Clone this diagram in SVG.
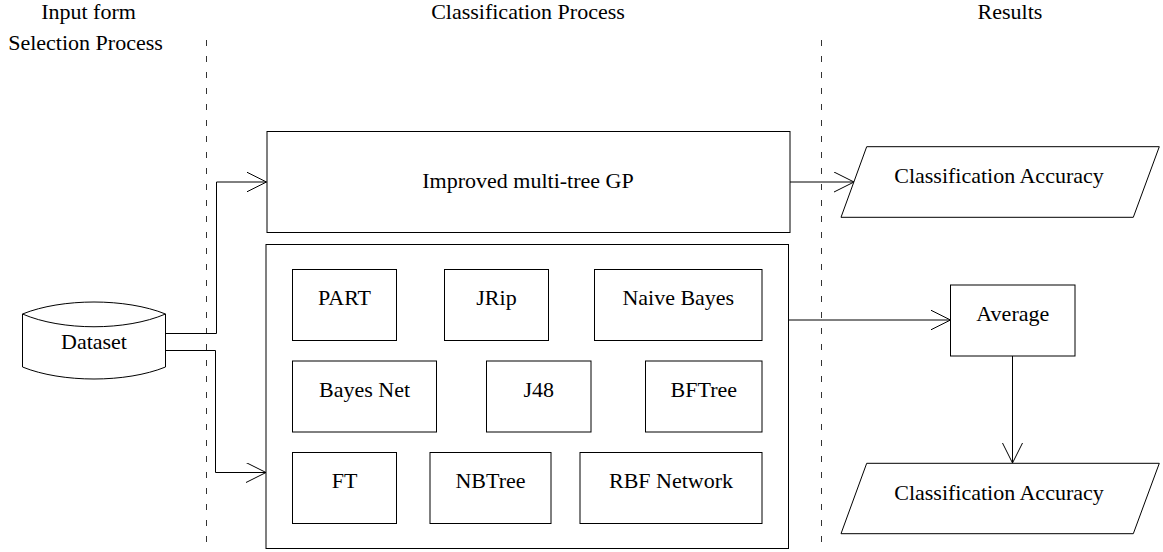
<svg xmlns="http://www.w3.org/2000/svg" width="1163" height="552" viewBox="0 0 1163 552">
  <style>
    text { font-family: "Liberation Serif", "Times New Roman", serif; font-size: 22px; fill: #000; text-anchor: middle; }
    .shape { fill: #fff; stroke: #000; stroke-width: 1; }
    .lane { stroke: #333; stroke-width: 1; stroke-dasharray: 6 10; fill: none; }
    .wire { fill: none; stroke: #000; stroke-width: 1; }
  </style>
  <defs>
    <marker id="open-arrow" markerUnits="userSpaceOnUse" markerWidth="22" markerHeight="22" viewBox="0 0 22 22" refX="20" refY="10" orient="auto">
      <path d="M0,0 L20,10 L0,20" fill="none" stroke="#000" stroke-width="1"/>
    </marker>
  </defs>
  <rect width="1163" height="552" fill="#fff"/>

  <!-- column headings -->
  <g id="headings">
    <text x="88.5" y="19">Input form</text>
    <text x="85.5" y="50">Selection Process</text>
    <text x="528" y="19">Classification Process</text>
    <text x="1010" y="19">Results</text>
  </g>

  <!-- lane separators -->
  <g id="lanes">
    <line class="lane" x1="206.5" y1="40" x2="206.5" y2="552"/>
    <line class="lane" x1="821.5" y1="40" x2="821.5" y2="552"/>
  </g>

  <g id="connectors">
    <path class="wire" d="M166,333.5 H216.5 V182 H266.5" marker-end="url(#open-arrow)"/>
    <path class="wire" d="M166,350.5 H215.5 V472.5 H266" marker-end="url(#open-arrow)"/>
    <path class="wire" d="M790,182 H854" marker-end="url(#open-arrow)"/>
    <path class="wire" d="M788.5,320 H950.5" marker-end="url(#open-arrow)"/>
    <path class="wire" d="M1012.5,356 V463" marker-end="url(#open-arrow)"/>
  </g>

  <g id="dataset">
    <path class="shape" d="M22.5,314 C62,298 126,298 165.5,314 V367 C126,383 62,383 22.5,367 Z"/>
    <path class="wire" d="M22.5,314 C62,331 126,331 165.5,314"/>
    <text x="94" y="349">Dataset</text>
  </g>

  <g id="gp">
    <rect class="shape" x="267" y="131.5" width="523" height="101"/>
    <text x="528" y="188">Improved multi-tree GP</text>
  </g>

  <g id="classifiers">
    <rect class="shape" x="266" y="244.5" width="522.5" height="304"/>
  </g>

  <g id="part">
    <rect class="shape" x="292.5" y="269.5" width="104" height="71"/>
    <text x="344.5" y="305">PART</text>
  </g>
  <g id="jrip">
    <rect class="shape" x="444.5" y="269.5" width="104" height="71"/>
    <text x="496.5" y="305">JRip</text>
  </g>
  <g id="naive-bayes">
    <rect class="shape" x="594.5" y="269.5" width="167.5" height="71"/>
    <text x="678.3" y="305">Naive Bayes</text>
  </g>

  <g id="bayes-net">
    <rect class="shape" x="292.5" y="361" width="144" height="71"/>
    <text x="364.5" y="396.5">Bayes Net</text>
  </g>
  <g id="j48">
    <rect class="shape" x="486.5" y="361" width="104.5" height="71"/>
    <text x="538.8" y="396.5">J48</text>
  </g>
  <g id="bftree">
    <rect class="shape" x="645.5" y="361" width="116.5" height="71"/>
    <text x="703.8" y="396.5">BFTree</text>
  </g>

  <g id="ft">
    <rect class="shape" x="292.5" y="452.5" width="104" height="71"/>
    <text x="344.5" y="488">FT</text>
  </g>
  <g id="nbtree">
    <rect class="shape" x="430" y="452.5" width="121" height="71"/>
    <text x="490.5" y="488">NBTree</text>
  </g>
  <g id="rbf-network">
    <rect class="shape" x="580" y="452.5" width="182" height="71"/>
    <text x="671" y="488">RBF Network</text>
  </g>

  <g id="accuracy-gp">
    <polygon class="shape" points="866.7,146.7 1159.3,146.7 1133.3,217.3 841,217.3"/>
    <text x="999" y="183.3">Classification Accuracy</text>
  </g>

  <g id="average">
    <rect class="shape" x="950.5" y="285" width="124.5" height="71"/>
    <text x="1012.8" y="320.5">Average</text>
  </g>

  <g id="accuracy-avg">
    <polygon class="shape" points="866.7,463.3 1159.3,463.3 1133.3,533.7 841,533.7"/>
    <text x="999" y="500">Classification Accuracy</text>
  </g>
</svg>
